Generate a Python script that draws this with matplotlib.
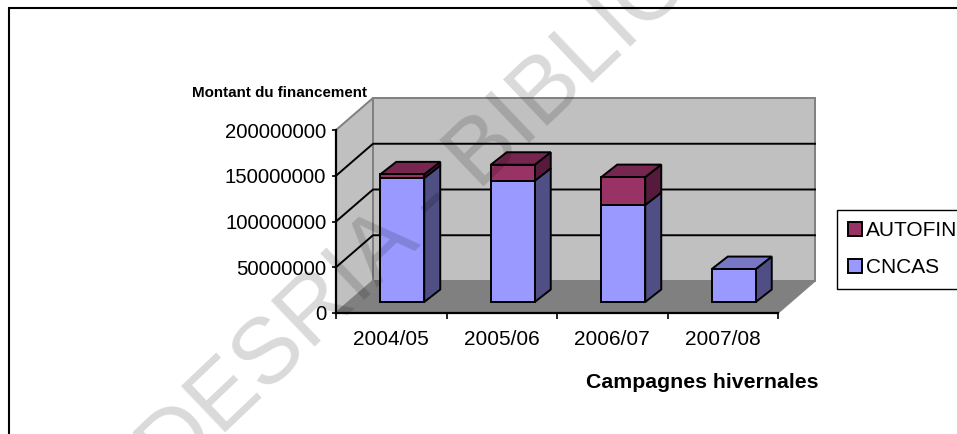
import matplotlib
matplotlib.use("Agg")
import matplotlib.pyplot as plt
from matplotlib.patches import Patch, Rectangle

campagnes = ["2004/05", "2005/06", "2006/07", "2007/08"]
cncas = [135500000, 132500000, 106000000, 36000000]
autofin = [4000000, 17500000, 30500000, 0]
y_ticks = [0, 50000000, 100000000, 150000000, 200000000]

W, H = 957, 434
plt.rcParams["font.family"] = ["Liberation Sans", "DejaVu Sans"]

fig = plt.figure(figsize=(W / 100, H / 100), dpi=100)
# front plane of the fake 3D box, in pixels of the picture
left, right, top, bottom = 336, 778, 130, 313
ax = fig.add_axes([left / W, 1 - bottom / H, (right - left) / W, (bottom - top) / H])
ax.set_xlim(0, 4)
ax.set_ylim(0, 200000000)
ax.patch.set_visible(False)

px_x = 4 / (right - left)
px_y = 200000000 / (bottom - top)

# depth of the box, of the gap in front of a bar, of a bar
box_dx, box_dy = 37 * px_x, 32 * px_y
gap_dx, gap_dy = 11 * px_x, 11 * px_y
bar_dx, bar_dy = 16 * px_x, 12.5 * px_y
bar_w = 44 * px_x

# ---------------------------
# WALLS AND FLOOR
# ---------------------------
ymax = y_ticks[-1]
ax.fill([0, box_dx, box_dx, 0], [0, box_dy, ymax + box_dy, ymax],
        facecolor="#c0c0c0", edgecolor="#808080", lw=1.4, clip_on=False, zorder=1)
ax.fill([box_dx, 4 + box_dx, 4 + box_dx, box_dx], [box_dy, box_dy, ymax + box_dy, ymax + box_dy],
        facecolor="#c0c0c0", edgecolor="#808080", lw=1.4, clip_on=False, zorder=1)
ax.fill([0, 4, 4 + box_dx, box_dx], [0, 0, box_dy, box_dy],
        facecolor="#808080", edgecolor="#808080", lw=1, clip_on=False, zorder=1)

for v in y_ticks[1:-1]:
    ax.plot([0, box_dx, 4 + box_dx], [v, v + box_dy, v + box_dy],
            color="black", lw=1.4, clip_on=False, zorder=2)

# ---------------------------
# BARS
# ---------------------------
def draw_block(x0, y0, height, front, side, top_col, with_top):
    x1 = x0 + bar_w
    y1 = y0 + height
    ax.bar(x0, height, width=bar_w, bottom=y0, align="edge", color=front,
           edgecolor="black", lw=1.4, clip_on=False, zorder=4)
    ax.fill([x1, x1 + bar_dx, x1 + bar_dx, x1], [y0, y0 + bar_dy, y1 + bar_dy, y1],
            facecolor=side, edgecolor="black", lw=1.4, clip_on=False, zorder=3.5)
    if with_top:
        ax.fill([x0, x1, x1 + bar_dx, x0 + bar_dx], [y1, y1, y1 + bar_dy, y1 + bar_dy],
                facecolor=top_col, edgecolor="black", lw=1.4, clip_on=False, zorder=3.5)


for i in range(len(campagnes)):
    x0 = i + 0.5 - bar_w / 2 + gap_dx
    draw_block(x0, gap_dy, cncas[i], "#9999ff", "#4f4f85", "#7777c4", autofin[i] == 0)
    if autofin[i] > 0:
        draw_block(x0, gap_dy + cncas[i], autofin[i], "#993366", "#551a3c", "#77264f", True)

# ---------------------------
# AXES
# ---------------------------
for name in ["top", "right"]:
    ax.spines[name].set_visible(False)
for name in ["left", "bottom"]:
    ax.spines[name].set_linewidth(1.6)
    ax.spines[name].set_zorder(5)

ax.set_yticks(y_ticks)
ax.set_yticklabels([str(v) for v in y_ticks], fontsize=14.6)
ax.tick_params(axis="y", length=3, width=1.2, pad=4)
ax.set_xticks([0.5, 1.5, 2.5, 3.5])
ax.set_xticklabels(campagnes, fontsize=15)
ax.set_xticks([0, 1, 2, 3, 4], minor=True)
ax.tick_params(axis="x", which="major", length=0, pad=12)
ax.tick_params(axis="x", which="minor", length=4, width=1.2)

fig.text(280 / W, 1 - 93 / H, "Montant du financement", fontsize=10.9, fontweight="bold",
         ha="center", va="center")
fig.text(702 / W, 1 - 382 / H, "Campagnes hivernales", fontsize=15.3, fontweight="bold",
         ha="center", va="center")

handles = [Patch(facecolor="#993366", edgecolor="black", lw=1.4, label="AUTOFIN"),
           Patch(facecolor="#9999ff", edgecolor="black", lw=1.4, label="CNCAS")]
fig.legend(handles=handles, loc="upper left", bbox_to_anchor=(837 / W, 1 - 210 / H),
           fontsize=15, fancybox=False, framealpha=1, edgecolor="black", borderaxespad=0,
           borderpad=0.55, handlelength=0.65, handleheight=0.65, handletextpad=0.2,
           labelspacing=0.85)

# outer frame, it runs off the picture on the right and at the bottom
fig.add_artist(Rectangle((9 / W, -0.1), 1.1, 1 - 8 / H + 0.1, transform=fig.transFigure,
                         fill=False, edgecolor="black", lw=1.5))

# watermark lies over everything
fig.text(54 / W, 1 - 563 / H, "CODESRIA - BIBLIOTHEQUE", fontsize=67, color="black", alpha=0.15,
         rotation=43.6, rotation_mode="anchor", ha="left", va="center", zorder=20)

fig.savefig("out.png", dpi=100)
